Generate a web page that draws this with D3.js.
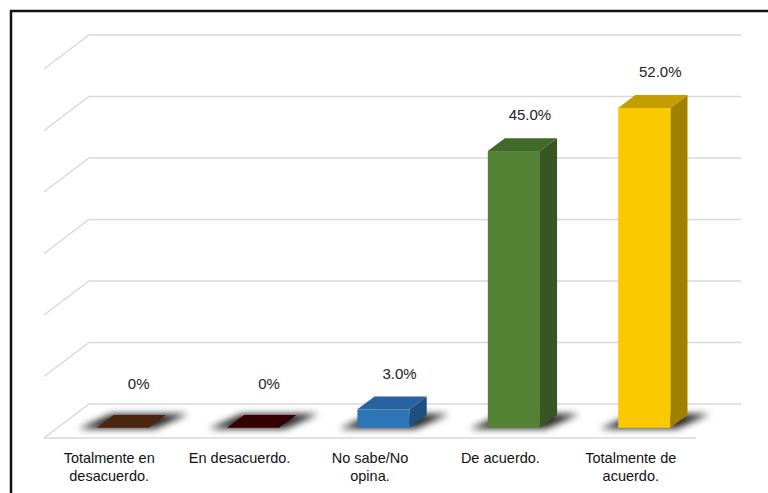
<!DOCTYPE html>
<html><head><meta charset="utf-8">
<script src="https://cdn.jsdelivr.net/npm/d3@7/dist/d3.min.js"></script>
<style>html,body{margin:0;padding:0;background:#fff;}svg{display:block;font-family:"Liberation Sans",Arial,sans-serif;}</style>
</head><body>
<script>
const categories = [["Totalmente en","desacuerdo."],["En desacuerdo."],["No sabe/No","opina."],["De acuerdo."],["Totalmente de","acuerdo."]];
const values = [0, 0, 3.0, 45.0, 52.0];
const valueLabels = ["0%","0%","3.0%","45.0%","52.0%"];
const frontColors = ["#4a2510","#340002","#2e75b6","#548235","#fac900"];
const topColors = ["#4a2510","#340002","#2862a0","#41692a","#c49e00"];
const sideColors = ["#3a1d0c","#2a0002","#1f4f80","#375623","#a08000"];
const gridTicks = [0,10,20,30,40,50,60];

const W = 768, H = 493;
const svg = d3.select("body").append("svg").attr("width", W).attr("height", H);

// frame
svg.append("rect").attr("x",11).attr("y",11).attr("width",W+20).attr("height",H+20)
  .attr("fill","none").attr("stroke","#111").attr("stroke-width",2.5);

const floorFrontY = 438, floorLeft = 44, floorRight = 696;
const depth = {x:45, y:-34};
const barFront = 0.3, barBack = 0.68;

const x = d3.scaleBand().domain(d3.range(values.length)).range([floorLeft, floorRight])
  .paddingInner(0.6).paddingOuter(0.3);
const xc = d3.scaleBand().domain(d3.range(values.length)).range([floorLeft, floorRight]);
const y = d3.scaleLinear().domain([0,60]).range([0,369]);

// gridlines
const grid = svg.append("g").attr("stroke","#d9d9d9").attr("stroke-width",1.5).attr("fill","none");
gridTicks.forEach(t=>{
  const h = y(t);
  grid.append("path").attr("d",
    `M${floorLeft},${floorFrontY-h} L${floorLeft+depth.x},${floorFrontY+depth.y-h} L${floorRight+depth.x},${floorFrontY+depth.y-h}`);
});
grid.append("line").attr("x1",floorLeft).attr("x2",floorRight).attr("y1",floorFrontY).attr("y2",floorFrontY);

// shadow filter
const defs = svg.append("defs");
defs.append("filter").attr("id","sh").attr("x","-50%").attr("y","-100%").attr("width","200%").attr("height","300%")
  .append("feGaussianBlur").attr("stdDeviation",3.5);

const fx = barFront*depth.x, fy = barFront*depth.y;
const bdx = (barBack-barFront)*depth.x, bdy = (barBack-barFront)*depth.y;
const bw = x.bandwidth();

const shadows = svg.append("g").attr("filter","url(#sh)");
const bars = svg.append("g");
values.forEach((v,i)=>{
  const x0 = x(i)+fx, x1 = x0+bw;
  const yb = floorFrontY+fy;
  const yt = yb - y(v);
  shadows.append("path").attr("fill","#000").attr("opacity",0.85)
    .attr("d",`M${x0-18},${yb+1} L${x1+6},${yb+1} L${x1+bdx+22},${yb+bdy-1} L${x0+bdx-2},${yb+bdy-1} Z`);
  // side
  bars.append("path").attr("fill",sideColors[i])
    .attr("d",`M${x1},${yb} L${x1+bdx},${yb+bdy} L${x1+bdx},${yt+bdy} L${x1},${yt} Z`);
  // front
  if (v>0) bars.append("rect").attr("x",x0).attr("y",yt).attr("width",bw).attr("height",y(v)).attr("fill",frontColors[i]);
  // top
  bars.append("path").attr("fill",v>0?topColors[i]:frontColors[i])
    .attr("d",`M${x0},${yt} L${x1},${yt} L${x1+bdx},${yt+bdy} L${x0+bdx},${yt+bdy} Z`);
  // value label
  svg.append("text").attr("x",x0+bw/2+16).attr("y",yt+bdy-(v>0?23:31)).attr("dy","0.35em")
    .attr("text-anchor","middle").attr("font-size",15).attr("fill","#222").text(valueLabels[i]);
});

// category labels
categories.forEach((lines,i)=>{
  const t = svg.append("text").attr("text-anchor","middle").attr("font-size",14.5).attr("fill","#111");
  lines.forEach((l,j)=>{
    t.append("tspan").attr("x",xc(i)+xc.bandwidth()/2).attr("y",458+18*j).attr("dy","0.35em").text(l);
  });
});
</script>
</body></html>
